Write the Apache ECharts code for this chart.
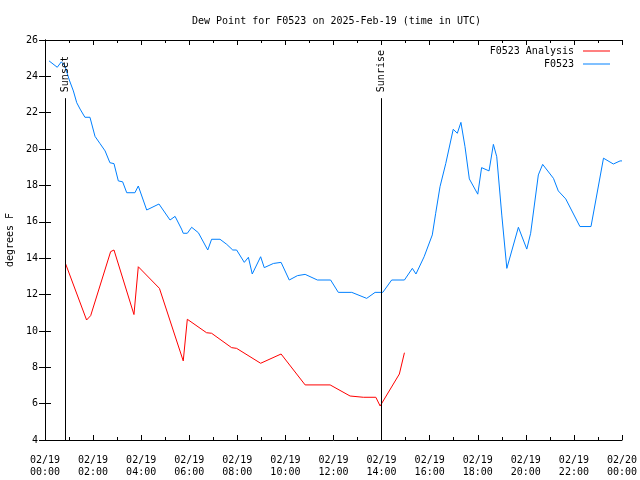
<!DOCTYPE html>
<html>
<head>
<meta charset="utf-8">
<script src="https://cdn.jsdelivr.net/npm/echarts@6/dist/echarts.min.js"></script>
<style>html,body{margin:0;padding:0;background:#fff}#c{width:640px;height:480px}</style>
</head>
<body>
<div id="c"></div>
<script>
// hours since 02/19 00:00 UTC
const obsHours = [0.17,0.51,0.68,0.83,1.01,1.18,1.32,1.46,1.66,1.87,2.08,2.29,2.50,2.70,2.87,3.05,3.23,3.40,3.74,3.88,4.23,4.74,5.20,5.41,5.68,5.75,5.92,6.10,6.38,6.77,6.93,7.28,7.56,7.81,7.97,8.29,8.46,8.62,8.97,9.12,9.50,9.82,10.16,10.50,10.82,11.33,11.88,12.20,12.76,13.38,13.73,14.05,14.42,14.95,15.28,15.43,15.77,16.11,16.25,16.43,16.67,16.98,17.15,17.30,17.47,17.65,18.00,18.16,18.47,18.65,18.79,19.00,19.21,19.69,20.04,20.20,20.52,20.70,21.15,21.35,21.66,22.25,22.71,23.23,23.64,23.92,24.0];
const obsValues = [24.85,24.5,24.8,24.57,23.8,23.2,22.55,22.2,21.75,21.75,20.7,20.3,19.9,19.25,19.2,18.25,18.2,17.6,17.6,17.97,16.65,16.98,16.1,16.3,15.6,15.37,15.37,15.7,15.4,14.45,15.04,15.04,14.76,14.45,14.45,13.77,14.05,13.13,14.08,13.48,13.71,13.77,12.8,13.04,13.11,12.8,12.8,12.12,12.12,11.79,12.12,12.12,12.8,12.8,13.44,13.13,14.08,15.28,16.47,17.93,19.21,21.09,20.87,21.47,20.13,18.36,17.52,18.98,18.8,20.26,19.58,16.37,13.44,15.7,14.5,15.37,18.58,19.16,18.39,17.7,17.26,15.74,15.74,19.5,19.18,19.35,19.35];
const anaHours = [0.86,1.73,1.90,2.73,2.87,3.70,3.88,4.76,5.75,5.92,6.72,6.93,7.76,7.97,8.97,9.82,10.82,11.86,12.69,13.24,13.76,13.94,14.74,14.95];
const anaValues = [13.68,10.6,10.84,14.36,14.45,10.9,13.53,12.34,8.35,10.64,9.9,9.87,9.08,9.04,8.22,8.73,7.03,7.03,6.42,6.35,6.35,5.87,7.63,8.8];
const sunEvents = [{name:'Sunset', hour:0.83}, {name:'Sunrise', hour:13.98}];
const sunLineTop = 22.8;
const xTickLabels = ['02/19\n00:00','02/19\n02:00','02/19\n04:00','02/19\n06:00','02/19\n08:00','02/19\n10:00','02/19\n12:00','02/19\n14:00','02/19\n16:00','02/19\n18:00','02/19\n20:00','02/19\n22:00','02/20\n00:00'];

const FONT = 'DejaVu Sans Mono';
const chart = echarts.init(document.getElementById('c'), null, {renderer:'canvas'});
const zip = (a,b) => a.map((x,i)=>[x,b[i]]);

const xBase = {
  type:'value', min:0, max:24, interval:2,
  axisLine:{show:true, lineStyle:{color:'#000', width:1}},
  axisTick:{show:true, inside:true, length:5, lineStyle:{color:'#000'}},
  minorTick:{show:true, splitNumber:2, length:3, lineStyle:{color:'#000'}},
  splitLine:{show:false}
};
const yBase = {
  type:'value', min:4, max:26, interval:2,
  axisLine:{show:true, lineStyle:{color:'#000', width:1}},
  axisTick:{show:true, inside:true, length:6, lineStyle:{color:'#000'}},
  splitLine:{show:false}
};

chart.setOption({
  animation:false,
  backgroundColor:'#fff',
  title:{text:'Dew Point for F0523 on 2025-Feb-19 (time in UTC)', left:187, top:11,
    textStyle:{fontFamily:FONT, fontSize:10, fontWeight:'normal', color:'#000'}},
  legend:{
    orient:'vertical', right:25, top:41, align:'right', itemGap:3,
    itemWidth:27, itemHeight:1, icon:'rect',
    textStyle:{fontFamily:FONT, fontSize:10, color:'#000', padding:[0,4,0,0]},
    data:['F0523 Analysis','F0523']
  },
  grid:{left:45, right:18, top:40, bottom:40, containLabel:false, outerBoundsMode:'none'},
  xAxis:[
    Object.assign({}, xBase, {position:'bottom',
      axisLabel:{show:true, margin:14, fontFamily:FONT, fontSize:10, color:'#000', lineHeight:12,
        formatter:(v)=>xTickLabels[Math.round(v/2)]}}),
    Object.assign({}, xBase, {position:'top', axisLabel:{show:false}})
  ],
  yAxis:[
    Object.assign({}, yBase, {position:'left', name:'degrees F', nameLocation:'middle', nameGap:30,
      nameTextStyle:{fontFamily:FONT, fontSize:10, color:'#000'},
      axisLabel:{show:true, margin:7, fontFamily:FONT, fontSize:10, color:'#000'}}),
    Object.assign({}, yBase, {position:'right', axisLabel:{show:false}})
  ],
  series:[
    {name:'F0523 Analysis', type:'line', data:zip(anaHours, anaValues), showSymbol:false, symbol:'none',
      color:'#ff0000', lineStyle:{width:1, color:'#ff0000'},
      markLine:{silent:true, symbol:'none', animation:false,
        lineStyle:{color:'#000', type:'solid', width:1},
        label:{show:true, position:'end', rotate:90, distance:6, align:'left', verticalAlign:'middle',
          fontFamily:FONT, fontSize:10, color:'#000',
          formatter:(p)=>p.name},
        data: sunEvents.map(e=>[{name:e.name, coord:[e.hour, 4]}, {coord:[e.hour, sunLineTop]}])
      }},
    {name:'F0523', type:'line', data:zip(obsHours, obsValues), showSymbol:false, symbol:'none',
      color:'#0080ff', lineStyle:{width:1, color:'#0080ff'}}
  ]
});
</script>
</body>
</html>
